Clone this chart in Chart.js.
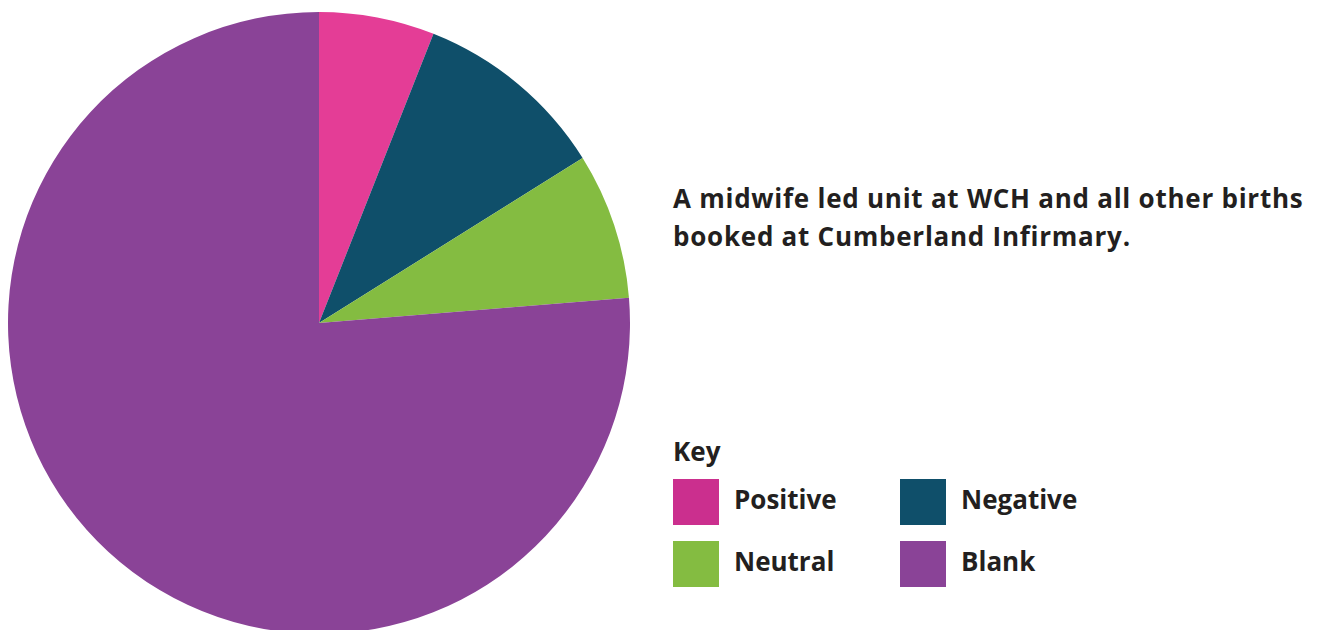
<!DOCTYPE html>
<html>
<head>
<meta charset="utf-8">
<script src="https://cdn.jsdelivr.net/npm/chart.js@4/dist/chart.umd.min.js"></script>
<style>
  html, body {
    margin: 0;
    padding: 0;
    width: 1322px;
    height: 630px;
    overflow: hidden;
    background: #ffffff;
    font-family: 'Open Sans', 'Liberation Sans', sans-serif;
    color: #231f20;
  }
  #pieWrap {
    position: absolute;
    left: 8px;
    top: 12px;
    width: 622px;
    height: 622px;
  }
  #caption {
    position: absolute;
    left: 673px;
    top: 179px;
    font-weight: bold;
    font-size: 26px;
    letter-spacing: 0.75px;
    line-height: 38px;
    white-space: nowrap;
  }
  #key {
    position: absolute;
    left: 673px;
    top: 433px;
  }
  #key .title {
    font-weight: bold;
    font-size: 26px;
    height: 46px;
  }
  #key .items {
    display: grid;
    grid-template-columns: 227px 227px;
    row-gap: 16px;
  }
  #key .item {
    display: flex;
    align-items: center;
    height: 46px;
    font-weight: bold;
    font-size: 26px;
  }
  #key .item span {
    position: relative;
    top: -3px;
  }
  #key .box {
    width: 46px;
    height: 46px;
    margin-right: 15px;
  }
</style>
</head>
<body>
<div id="pieWrap"><canvas id="chartPie"></canvas></div>
<div id="caption">A midwife led unit at WCH and all other births<br>booked at Cumberland Infirmary.</div>
<div id="key">
  <div class="title">Key</div>
  <div class="items" id="keyItems"></div>
</div>
<script>
// share of responses, percent
const labels = ['Positive', 'Negative', 'Neutral', 'Blank'];
const values = [6.0, 10.1, 7.6, 76.3];
const sliceColors = ['#e43d96', '#0f4f6a', '#84bc41', '#8a4397'];
const keyColors = ['#cb2f8e', '#0f4f6a', '#84bc41', '#8a4397'];

function makeKey() {
  const box = document.getElementById('keyItems');
  for (let i = 0; i < labels.length; i++) {
    const item = document.createElement('div');
    item.className = 'item';
    const sw = document.createElement('div');
    sw.className = 'box';
    sw.style.background = keyColors[i];
    item.appendChild(sw);
    const txt = document.createElement('span');
    txt.textContent = labels[i];
    item.appendChild(txt);
    box.appendChild(item);
  }
}

function makeChart() {
  const canvas = document.getElementById('chartPie');
  new Chart(canvas, {
    type: 'pie',
    data: {
      labels: labels,
      datasets: [{
        data: values,
        backgroundColor: sliceColors,
        borderWidth: 0
      }]
    },
    options: {
      responsive: true,
      maintainAspectRatio: false,
      animation: false,
      layout: { padding: 0 },
      plugins: {
        legend: { display: false },
        tooltip: { enabled: false }
      }
    }
  });
}

makeKey();
makeChart();
</script>
</body>
</html>
